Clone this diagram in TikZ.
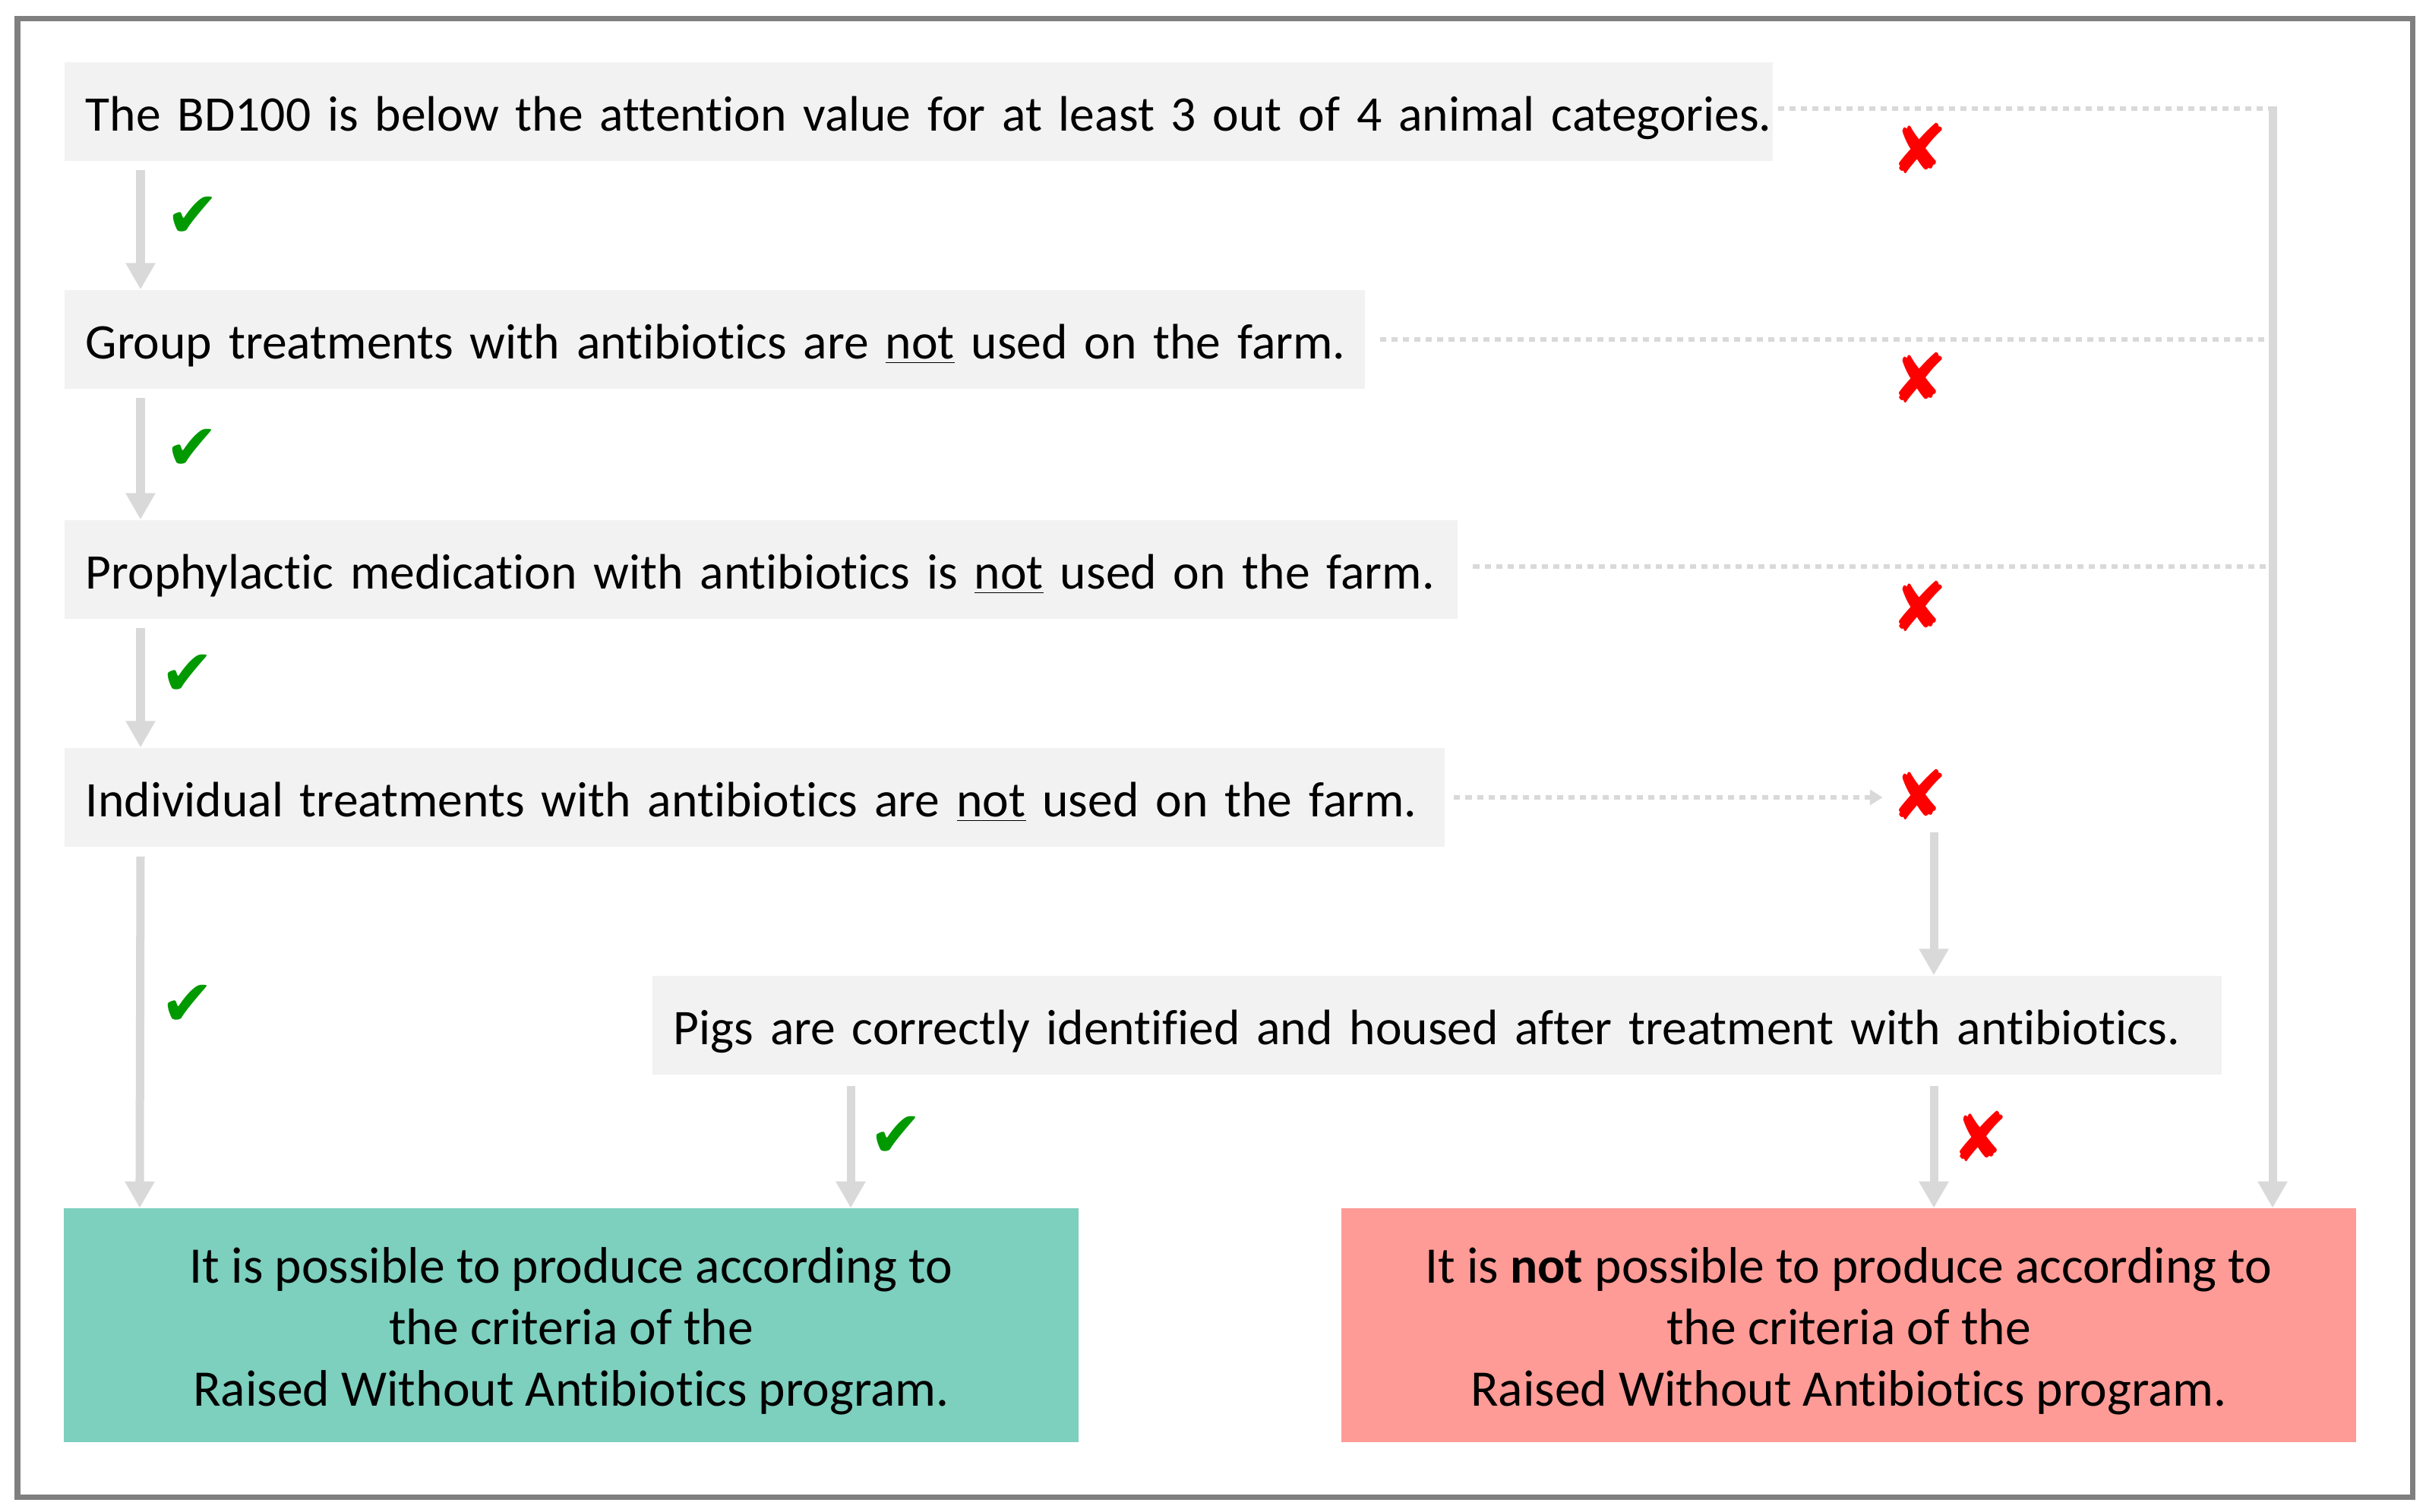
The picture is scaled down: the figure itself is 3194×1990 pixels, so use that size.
\documentclass[tikz,border=0pt]{standalone}
\usepackage{fontspec}
\setmainfont{Carlito}[Ligatures=NoCommon]
\newfontfamily\symfont{DejaVu Sans}
\usetikzlibrary{arrows.meta,calc}
\definecolor{boxgray}{HTML}{F2F2F2}
\definecolor{arrgray}{HTML}{D9D9D9}
\definecolor{framegray}{HTML}{7F7F7F}
\definecolor{okgreen}{HTML}{7DCFBE}
\definecolor{nored}{HTML}{FF9B96}
\definecolor{chk}{HTML}{009900}
\definecolor{crs}{HTML}{FF0000}
\begin{document}
\begin{tikzpicture}[x=0.01cm,y=-0.01cm,
  every node/.style={font=\fontsize{18.65}{22.6}\selectfont},
  cond/.style={fill=boxgray, anchor=west, minimum height=1.3cm, inner xsep=0.28cm, inner ysep=0pt, align=left, text height=0.5cm, text depth=0cm},
  result/.style={minimum width=13.36cm, minimum height=3.07cm, align=center, inner sep=0pt, font=\fontsize{19.2}{23.0}\selectfont},
  garrow/.style={draw=arrgray, line width=0.11cm, -{Triangle[length=0.35cm,width=0.37cm]}},
  dotline/.style={draw=arrgray, line width=0.055cm, dash pattern=on 0.08cm off 0.07cm},
  yes/.style={text=chk, font=\symfont\fontsize{24}{24}\selectfont, inner sep=0pt},
  no/.style={text=crs, font=\symfont\fontsize{25.5}{25.5}\selectfont, inner sep=0pt},
]
\useasboundingbox (0,0) rectangle (3194,1990);
\draw[framegray, line width=0.07cm] (23,24) rectangle (3176,1971);

% condition boxes
\node[cond, text width=21.92cm] (b1) at (84,147) {\mbox{The BD100 is below the attention value for at least 3 out of 4 animal categories.}};
\node[cond, text width=16.55cm] (b2) at (84,447) {\mbox{Group treatments with antibiotics are \underline{not} used on the farm.}};
\node[cond, text width=17.77cm] (b3) at (84,750) {\mbox{Prophylactic medication with antibiotics is \underline{not} used on the farm.}};
\node[cond, text width=17.60cm] (b4) at (84,1050) {\mbox{Individual treatments with antibiotics are \underline{not} used on the farm.}};
\node[cond, text width=20.09cm] (b5) at (858,1350) {\mbox{Pigs are correctly identified and housed after treatment with antibiotics.}};

% result boxes
\node[result, fill=okgreen] (g) at (752,1745) {\rule{0pt}{0.63cm}It is possible to produce according to\\the criteria of the\\Raised Without Antibiotics program.};
\node[result, fill=nored] (r) at (2434,1745) {\rule{0pt}{0.63cm}It is \textbf{not} possible to produce according to\\the criteria of the\\Raised Without Antibiotics program.};

% marks
\node[yes] (c1) at (254,286) {✔};
\node[yes] (c2) at (253,592) {✔};
\node[yes] (c3) at (247,889) {✔};
\node[yes] (c4) at (247,1324) {✔};
\node[yes] (c5) at (1180,1497) {✔};
\node[no] (x1) at (2527,195) {✘};
\node[no] (x2) at (2527,497) {✘};
\node[no] (x3) at (2527,798) {✘};
\node[no] (x4) at (2527,1046) {✘};
\node[no] (x5) at (2607,1496) {✘};

% columns
\coordinate (colA) at (1120,0);
\coordinate (colB) at (2546,0);
\coordinate (colC) at (2992,143);

% yes arrows
\draw[garrow] ($(b1.south west)+(101,11)$) -- ($(b2.north west)+(101,0)$);
\draw[garrow] ($(b2.south west)+(101,11)$) -- ($(b3.north west)+(101,0)$);
\draw[garrow] ($(b3.south west)+(101,11)$) -- ($(b4.north west)+(101,0)$);
\draw[garrow] ($(b4.south west)+(101,12)$) -- ($(g.north west)+(101,0)$);
\draw[garrow] ($(b5.south -| colA)+(0,14)$) -- (g.north -| colA);

% no paths
\draw[dotline] ($(b1.east)+(6,-4)$) -- (colC);
\draw[garrow] ($(colC)+(0,-3)$) -- (r.north -| colC);
\draw[dotline] ($(b2.east)+(20,0)$) -- ($(b2.east -| colC)+(-8,0)$);
\draw[dotline] ($(b3.east)+(20,-4)$) -- ($(b3.east -| colC)+(-8,-4)$);
\draw[dotline, -{Triangle[length=0.17cm,width=0.2cm]}] ($(b4.east)+(12,0)$) -- ($(b4.east -| x4.west)+(-10,0)$);
\draw[garrow] ($(b4.south -| colB)+(0,-20)$) -- (b5.north -| colB);
\draw[garrow] ($(b5.south -| colB)+(0,14)$) -- (r.north -| colB);
\end{tikzpicture}
\end{document}
